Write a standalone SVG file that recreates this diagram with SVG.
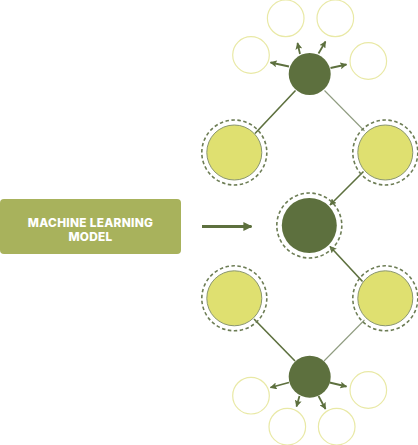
<svg xmlns="http://www.w3.org/2000/svg" width="418" height="445" viewBox="0 0 418 445">
<defs>
<marker id="ah" viewBox="0 0 10 10" refX="9" refY="5" markerWidth="7" markerHeight="7" markerUnits="userSpaceOnUse" orient="auto">
<path d="M0,0 L10,5 L0,10 L2,5 z" fill="#5d703e"/>
</marker>
<marker id="ahb" viewBox="0 0 10 10" refX="9" refY="5" markerWidth="9" markerHeight="9" markerUnits="userSpaceOnUse" orient="auto">
<path d="M0,0 L10,5 L0,10 z" fill="#5d703e"/>
</marker>
</defs>
<style>
.dark{fill:#5d703e}
.yel{fill:#dfe070;stroke:#8a9670;stroke-width:1}
.ring{fill:none;stroke:#6d7d55;stroke-width:1.6;stroke-dasharray:3.5 2.5}
.ghost{fill:none;stroke:#e9e9a6;stroke-width:1.2}
.ln{stroke:#5d703e;stroke-width:1.6;fill:none}
.lt{stroke:#8f9c80;stroke-width:1.1;fill:none}
.sa{stroke:#5d703e;stroke-width:1.8;fill:none;marker-end:url(#ah)}
.lbl{font-family:Inter,"Liberation Sans",Arial,sans-serif;font-weight:800;font-size:11.8px;letter-spacing:0.3px;fill:#ffffff;text-anchor:middle}
</style>
<rect width="418" height="445" fill="#ffffff"/>
<g id="model">
<rect x="0" y="199" width="181" height="55" rx="4" fill="#a8b25c"/>
<text class="lbl" x="90.5" y="227.3">MACHINE LEARNING</text>
<text class="lbl" x="90.5" y="241">MODEL</text>
</g>
<g id="connectors">
<line x1="202" y1="226.5" x2="251.5" y2="226.5" stroke="#5d703e" stroke-width="3.2" marker-end="url(#ahb)"/>
<line class="ln" x1="295.5" y1="90.5" x2="255" y2="133.5"/>
<line class="lt" x1="324.5" y1="90.5" x2="364.5" y2="131"/>
<line class="ln" x1="363.5" y1="171.5" x2="330" y2="205" marker-end="url(#ah)"/>
<line class="ln" x1="362.5" y1="281.5" x2="330" y2="246.5" marker-end="url(#ah)"/>
<line class="ln" x1="254" y1="319" x2="295" y2="361"/>
<line class="lt" x1="364.5" y1="320" x2="324" y2="361"/>
<line class="sa" x1="289" y1="66.5" x2="270.5" y2="62.5"/>
<line class="sa" x1="300" y1="54" x2="297.5" y2="43"/>
<line class="sa" x1="318.5" y1="53.5" x2="325.5" y2="41.5"/>
<line class="sa" x1="330.5" y1="68" x2="346.5" y2="64.5"/>
<line class="sa" x1="289" y1="382.5" x2="270.5" y2="387.5"/>
<line class="sa" x1="299.5" y1="396" x2="296.5" y2="406.5"/>
<line class="sa" x1="318.5" y1="396" x2="325.5" y2="409"/>
<line class="sa" x1="329.5" y1="382.5" x2="346.5" y2="386.5"/>
</g>
<g id="top-outputs">
<circle class="ghost" cx="285.7" cy="18.3" r="18.3"/>
<circle class="ghost" cx="335.3" cy="18.3" r="18.3"/>
<circle class="ghost" cx="251" cy="55" r="18.3"/>
<circle class="ghost" cx="368.3" cy="61" r="18.3"/>
</g>
<g id="top-hub"><circle class="dark" cx="309.7" cy="74" r="21"/></g>
<g id="upper-left">
<circle class="ring" cx="234.3" cy="152.5" r="32.5"/>
<circle class="yel" cx="234.3" cy="152.5" r="27.5"/>
</g>
<g id="upper-right">
<circle class="ring" cx="385.3" cy="152.5" r="32.5"/>
<circle class="yel" cx="385.3" cy="152.5" r="27.5"/>
</g>
<g id="center">
<circle class="ring" cx="309.3" cy="225.5" r="32.5"/>
<circle class="dark" cx="309.3" cy="225.5" r="27.5"/>
</g>
<g id="lower-left">
<circle class="ring" cx="234.3" cy="298.3" r="32.5"/>
<circle class="yel" cx="234.3" cy="298.3" r="27.5"/>
</g>
<g id="lower-right">
<circle class="ring" cx="385.3" cy="298.3" r="32.5"/>
<circle class="yel" cx="385.3" cy="298.3" r="27.5"/>
</g>
<g id="bottom-hub"><circle class="dark" cx="309.7" cy="376.7" r="21"/></g>
<g id="bottom-outputs">
<circle class="ghost" cx="251" cy="395.7" r="18.3"/>
<circle class="ghost" cx="287.3" cy="426.7" r="18.3"/>
<circle class="ghost" cx="336.7" cy="426.7" r="18.3"/>
<circle class="ghost" cx="368.3" cy="390" r="18.3"/>
</g>
</svg>
